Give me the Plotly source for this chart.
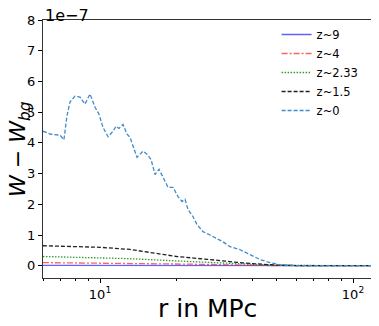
import plotly.graph_objects as go

# values in units of 1e-7
r_z0 = [5.95, 6.4, 6.95, 7.2, 7.4, 7.61, 7.96, 8.34, 8.72, 9.13, 9.56, 9.91, 10.28, 10.76,
        11.26, 11.57, 11.89, 12.33, 12.79, 13.14, 14.0, 14.79, 15.34, 15.91, 16.5, 17.11,
        17.75, 18.57, 19.44, 20.34, 21.1, 21.68, 22.27, 23.3, 24.17, 25.53, 27.2, 28.5,
        30.6, 32.65, 35.8, 39.2, 42.9, 47.0, 51.5, 61.7, 80.0, 119.0]
w_z0 = [4.38, 4.28, 4.25, 4.1, 4.87, 5.33, 5.52, 5.49, 5.26, 5.59, 5.16, 4.93, 4.5, 4.2,
        4.38, 4.54, 4.47, 4.6, 4.28, 4.18, 3.53, 3.73, 3.63, 3.46, 2.97, 3.14,
        2.88, 2.55, 2.55, 2.25, 2.09, 2.16, 1.83, 1.6, 1.34, 1.11, 1.0, 0.91,
        0.78, 0.62, 0.52, 0.36, 0.2, 0.1, 0.03, 0.0, 0.0, 0.0]

r_z15 = [5.95, 10.0, 13.14, 14.8, 20.1, 27.2, 36.7, 50.0, 61.7, 119.0]
w_z15 = [0.65, 0.6, 0.53, 0.46, 0.3, 0.2, 0.09, 0.02, 0.0, 0.0]

r_z233 = [5.95, 13.1, 23.3, 36.7, 51.5, 119.0]
w_z233 = [0.3, 0.23, 0.13, 0.05, 0.01, 0.0]

r_z4 = [5.95, 13.0, 23.0, 37.0, 52.0, 119.0]
w_z4 = [0.1, 0.08, 0.05, 0.02, 0.0, 0.0]

r_z9 = [5.95, 119.0]
w_z9 = [0.01, 0.0]

series = [
    ("z~9", r_z9, w_z9, "rgba(30,30,255,0.7)", "solid"),
    ("z~4", r_z4, w_z4, "rgba(255,30,30,0.7)", "6px,2px,2px,2px"),
    ("z~2.33", r_z233, w_z233, "#2a9d2a", "1.5px,1.5px"),
    ("z~1.5", r_z15, w_z15, "#222", "4px,2px"),
    ("z~0", r_z0, w_z0, "#3f8bcb", "4px,2px"),
]

fig = go.Figure()
for name, x, y, col, dash in series:
    fig.add_trace(go.Scatter(x=x, y=y, mode="lines", name=name,
                             line=dict(color=col, width=1.3, dash=dash)))

axis_font = dict(family="DejaVu Sans", size=13, color="black")

# the page body has an 8px margin, so the figure is sized/offset to compensate
fig.update_layout(
    width=371, height=318,
    margin=dict(l=35, r=7, t=12, b=48),
    plot_bgcolor="white", paper_bgcolor="white",
    font=dict(family="DejaVu Sans", color="black"),
    xaxis=dict(
        type="log", range=[0.7747, 2.075], automargin=False,
        tickvals=[10, 100], ticktext=["10<sup>1</sup>", "10<sup>2</sup>"],
        ticks="outside", ticklen=4, tickcolor="black", tickfont=axis_font,
        showline=True, linecolor="#333", mirror=True, showgrid=False, zeroline=False,
        minor=dict(ticks="outside", ticklen=2, tickcolor="black",
                   tickvals=[6, 7, 8, 9, 20, 30, 40, 50, 60, 70, 80, 90], showgrid=False),
    ),
    yaxis=dict(
        range=[-0.4, 8], tickvals=[0, 1, 2, 3, 4, 5, 6, 7, 8], automargin=False,
        ticks="outside", ticklen=4, tickcolor="black", tickfont=axis_font,
        showline=True, linecolor="#333", mirror=True, showgrid=False, zeroline=False,
    ),
    legend=dict(x=0.71, y=1.0, xanchor="left", yanchor="top",
                bgcolor="rgba(0,0,0,0)", font=dict(size=11.5), tracegroupgap=0),
    showlegend=True,
)

fig.add_annotation(text="1e−7", xref="paper", yref="paper", x=0, y=1,
                   xanchor="left", yanchor="bottom", showarrow=False,
                   font=dict(size=16, family="DejaVu Sans"), yshift=-7)
fig.add_annotation(text="r in MPc", xref="paper", yref="paper", x=0.5, y=0,
                   xanchor="center", yanchor="middle", showarrow=False,
                   font=dict(size=25, family="DejaVu Sans"), yshift=-30)
fig.add_annotation(text="<i>W</i> − <i>W</i><sub><i>bg</i></sub>", xref="paper", yref="paper",
                   x=0, y=0.5, xanchor="center", yanchor="middle", textangle=-90,
                   showarrow=False, font=dict(size=22, family="DejaVu Sans"), xshift=-24)

fig.write_html("out.html")
